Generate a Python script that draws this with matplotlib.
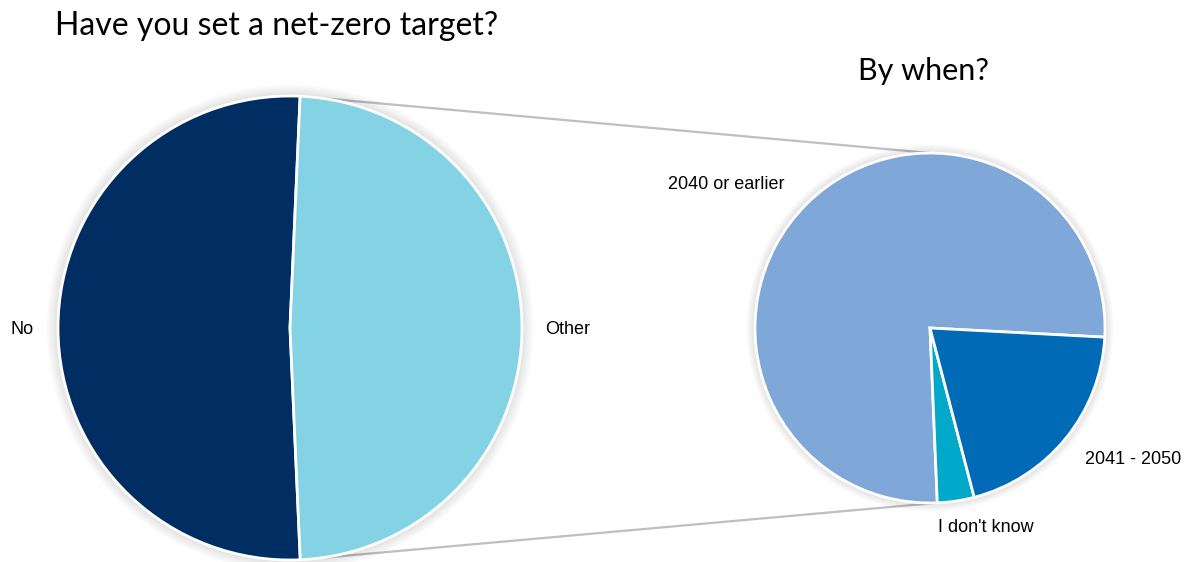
"""Net-zero target survey: pie with a breakout pie for the target year."""

import matplotlib

matplotlib.use("Agg")
import matplotlib.pyplot as plt
from matplotlib.patches import Circle, ConnectionPatch
import numpy as np

# Have you set a net-zero target?
main_labels = ["No", "Other"]
main_values = [51.4, 48.6]
main_colors = ["#002D62", "#83D3E4"]

# By when?
year_labels = ["2040 or earlier", "I don't know", "2041 - 2050"]
year_values = [76.5, 3.4, 20.1]
year_colors = ["#7FA7D8", "#00A9C9", "#006AB6"]

W, H = 1184, 562
fig = plt.figure(figsize=(W / 100, H / 100), dpi=100)

label_font = ["Liberation Sans Narrow", "Liberation Sans", "DejaVu Sans"]
title_font = ["Lato", "DejaVu Sans"]


def px_axes(cx, cy, r):
    """Square axes centred on pixel (cx, cy) from the top-left corner."""
    ax = fig.add_axes([(cx - r) / W, (H - cy - r) / H, 2 * r / W, 2 * r / H])
    ax.axis("off")
    return ax


def fix_limits(ax):
    ax.set_xlim(-1, 1)
    ax.set_ylim(-1, 1)
    ax.set_aspect("equal")


def soft_shadow(ax):
    # faint halo behind the pie
    for k in range(10):
        ax.add_patch(Circle((0, 0), 1.0 + 0.005 * (k + 1), color="#000000",
                            alpha=0.012, lw=0, zorder=0, clip_on=False))


ax_main = px_axes(290, 328, 232)
main_wedges, _ = ax_main.pie(
    main_values, colors=main_colors, startangle=87.5, counterclock=True,
    radius=1.0, wedgeprops=dict(edgecolor="white", linewidth=2),
)
for w in main_wedges:
    w.set_zorder(2)
soft_shadow(ax_main)
fix_limits(ax_main)

ax_year = px_axes(930, 328, 175)
year_wedges, _ = ax_year.pie(
    year_values, colors=year_colors, startangle=-3, counterclock=True,
    radius=1.0, wedgeprops=dict(edgecolor="white", linewidth=2),
)
for w in year_wedges:
    w.set_zorder(2)
soft_shadow(ax_year)
fix_limits(ax_year)

# connector lines from the "Other" slice to the breakout pie
other = main_wedges[1]
for ang_main, ang_year in [(other.theta2, 90), (other.theta1, -88)]:
    a = np.deg2rad(ang_main)
    b = np.deg2rad(ang_year)
    con = ConnectionPatch(
        xyA=(np.cos(a), np.sin(a)), coordsA=ax_main.transData,
        xyB=(np.cos(b), np.sin(b)), coordsB=ax_year.transData,
        color="#BFBFBF", lw=1.6, zorder=-1,
    )
    fig.add_artist(con)


# slice labels
def fig_text(x, y, s, **kw):
    fig.text(x / W, 1 - y / H, s, family=label_font, fontsize=13,
             va="center", color="#000000", **kw)


fig_text(10, 329, main_labels[0], ha="left")
fig_text(545, 329, main_labels[1], ha="left")
fig_text(668, 184, year_labels[0], ha="left")
fig_text(938, 527, year_labels[1], ha="left")
fig_text(1085, 460, year_labels[2], ha="left")

fig.text(55 / W, 1 - 26 / H, "Have you set a net-zero target?",
         family=title_font, fontsize=23, va="center", ha="left")
fig.text(858 / W, 1 - 71 / H, "By when?",
         family=title_font, fontsize=22, va="center", ha="left")

fig.savefig("out.png", dpi=100, facecolor="white")
